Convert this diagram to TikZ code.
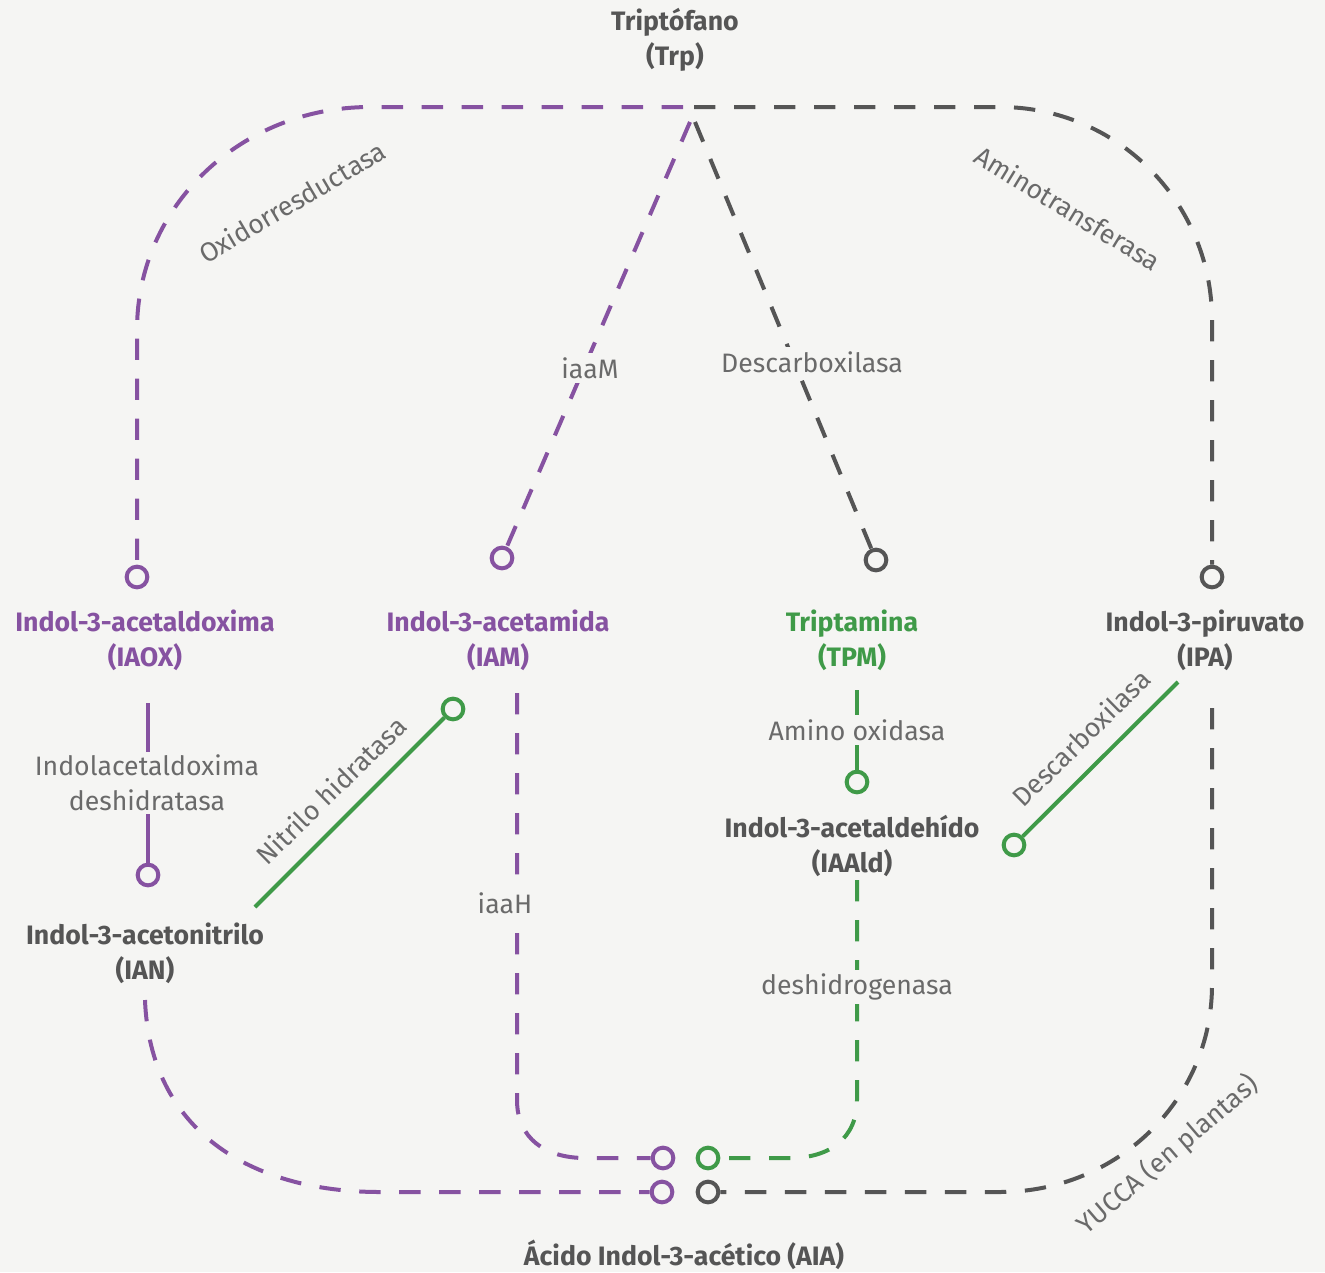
\documentclass[tikz,border=0pt]{standalone}
\usepackage{fontspec}
\setmainfont{Fira Sans}
\definecolor{bg}{HTML}{F5F5F3}
\definecolor{pur}{HTML}{8652A1}
\definecolor{gry}{HTML}{555555}
\definecolor{grn}{HTML}{3F9A48}
\definecolor{lbl}{HTML}{6A6A6A}
\tikzset{
  dashline/.style={line width=3pt, dash pattern=on 16pt off 14pt},
  solidline/.style={line width=3pt},
  circ/.style={circle, draw=#1, fill=bg, line width=3pt, minimum size=15.5pt, inner sep=0pt},
  title/.style={font=\fontsize{20}{26}\selectfont\bfseries, align=center, text=gry, inner sep=1pt},
  enz/.style={font=\fontsize{20}{26}\selectfont, align=center, text=lbl, inner sep=1pt},
  enzf/.style={enz, fill=bg, inner sep=3pt}
}
\begin{document}
\begin{tikzpicture}[x=0.75pt,y=-0.75pt]
\fill[bg] (0,0) rectangle (1325,1272);
\useasboundingbox (0,0) rectangle (1325,1272);

% titles
\node[title] (trp) at (675,40) {Triptófano\\(Trp)};
\node[title, text=pur] (iaox) at (145,640) {Indol-3-acetaldoxima\\(IAOX)};
\node[title, text=pur] (iam) at (498,640) {Indol-3-acetamida\\(IAM)};
\node[title, text=grn] (tpm) at (852,640) {Triptamina\\(TPM)};
\node[title] (ipa) at (1205,640) {Indol-3-piruvato\\(IPA)};
\node[title] (ian) at (145,953) {Indol-3-acetonitrilo\\(IAN)};
\node[title] (iaald) at (852,846) {Indol-3-acetaldehído\\(IAAld)};
\node[title] (aia) at (684,1255) {Ácido Indol-3-acético (AIA)};

% circles
\node[circ=pur] (cIAOX) at (137,577) {};
\node[circ=pur] (cIAM) at (502,558) {};
\node[circ=gry] (cTPM) at (876,560) {};
\node[circ=gry] (cIPA) at (1212,577) {};
\node[circ=pur] (cIAN) at (148,875) {};
\node[circ=grn] (cNit) at (453,709) {};
\node[circ=grn] (cAld) at (857,782) {};
\node[circ=grn] (cDes) at (1014,845) {};
\node[circ=pur] (cA1) at (663,1158) {};
\node[circ=grn] (cA2) at (708,1158) {};
\node[circ=pur] (cA3) at (662,1192) {};
\node[circ=gry] (cA4) at (708,1192) {};

% coordinates
\coordinate (tL) at (683,107);
\coordinate (tR) at (694,107);
\coordinate (tM) at (690,122);
\coordinate (tD) at (695,122);
\coordinate (iaoxS) at (148,703);
\coordinate (iamS) at (517,693);
\coordinate (tpmS) at (857,690);
\coordinate (aldS) at (857,880);
\coordinate (ipaS) at (1212,708);
\coordinate (ianS) at (145,1000);
\coordinate (nitS) at (255,907);
\coordinate (desS) at (1178,682);

% connectors
\draw[dashline, draw=pur] (tL) -- (370,107) .. controls (242,107) and (137,205) .. (137,330) -- (cIAOX.north);
\draw[dashline, draw=gry] (tR) -- (1000,107) .. controls (1117,107) and (1212,202) .. (1212,320) -- (cIPA.north);
\draw[dashline, draw=pur] (tM) -- (cIAM);
\draw[dashline, draw=gry] (tD) -- (cTPM);
\draw[solidline, draw=pur] (iaoxS) -- (cIAN.north);
\draw[solidline, draw=grn] (nitS) -- (cNit);
\draw[solidline, draw=grn] (desS) -- (cDes);
\draw[solidline, draw=grn] (tpmS) -- (cAld.north);
\draw[dashline, draw=pur] (iamS) -- (517,1100) .. controls (517,1138) and (545,1158) .. (585,1158) -- (cA1.west);
\draw[dashline, draw=grn] (aldS) -- (857,1100) .. controls (857,1138) and (830,1158) .. (790,1158) -- (cA2.east);
\draw[dashline, draw=gry] (ipaS) -- (1212,985) .. controls (1212,1100) and (1117,1192) .. (1000,1192) -- (cA4.east);
\draw[dashline, draw=pur] (ianS) .. controls (150,1130) and (250,1192) .. (380,1192) -- (cA3.west);

% enzyme labels
\node[enz, rotate=30.5] (oxr) at (292,202) {Oxidorresductasa};
\node[enz, rotate=-31.5] (amt) at (1068,208) {Aminotransferasa};
\node[enzf] (iaaM) at (590,368) {iaaM};
\node[enzf] (desc) at (812,362) {Descarboxilasa};
\node[enzf, inner sep=2pt] (iadh) at (147,783) {Indolacetaldoxima\\deshidratasa};
\node[enz, rotate=44.5] (nit) at (331,790) {Nitrilo hidratasa};
\node[enz, rotate=44.5] (desc2) at (1081,738) {Descarboxilasa};
\node[enzf] (amox) at (857,730) {Amino oxidasa};
\node[enzf] (iaaH) at (505,903) {iaaH};
\node[enzf] (dh) at (857,987) {deshidrogenasa};
\node[enz, rotate=40.5] (yuc) at (1168,1155) {YUCCA (en plantas)};
\end{tikzpicture}
\end{document}
